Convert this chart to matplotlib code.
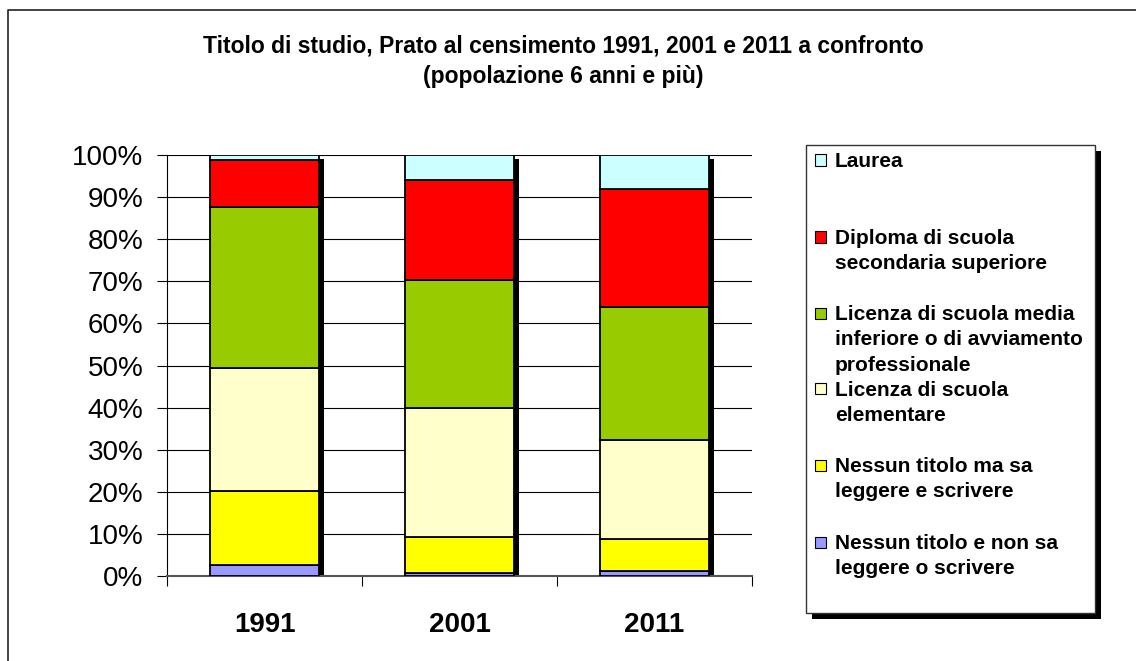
import numpy as np
import matplotlib.pyplot as plt
import matplotlib.patheffects as pe
from matplotlib.patches import Rectangle
from matplotlib.lines import Line2D
from matplotlib.ticker import FuncFormatter

plt.rcParams['font.family'] = ['Liberation Sans', 'DejaVu Sans']

# data (% of population aged 6+)
years = ['1991', '2001', '2011']
nessun_non_sa = [2.6, 0.7, 1.1]
nessun_ma_sa = [17.5, 8.5, 7.6]
elementare = [29.3, 30.6, 23.7]
media = [38.3, 30.4, 31.5]
diploma = [11.2, 23.9, 28.0]
laurea = [1.1, 5.9, 8.1]

labels = ['Nessun titolo e non sa\nleggere o scrivere',
          'Nessun titolo ma sa\nleggere e scrivere',
          'Licenza di scuola\nelementare',
          'Licenza di scuola media\ninferiore o di avviamento\nprofessionale',
          'Diploma di scuola\nsecondaria superiore',
          'Laurea']
colors = ['#9999FF', '#FFFF00', '#FFFFCC', '#99CC00', '#FF0000', '#CCFFFF']
series = [nessun_non_sa, nessun_ma_sa, elementare, media, diploma, laurea]

W, H = 1136, 661
fig = plt.figure(figsize=(W/100, H/100), dpi=100)

def fx(x):
    return x/W

def fy(y):
    return 1 - y/H

ax = fig.add_axes([fx(167), fy(576), (752-167)/W, (576-155)/H])

x = np.arange(len(years))
vals = np.array(series, dtype=float)
totals = vals.sum(axis=0)
pct = vals/totals*100
bw = 0.554

# shadow behind each stacked column
ax.bar(x, pct.sum(axis=0), bw, color='white', zorder=2,
       path_effects=[pe.SimplePatchShadow(offset=(3.8, -3), shadow_rgbFace='black', alpha=1.0), pe.Normal()])

bottom = np.zeros(len(years))
for s, c in zip(pct, colors):
    ax.bar(x, s, bw, bottom=bottom, color=c, edgecolor='black', linewidth=1.3, zorder=3)
    bottom += s

ax.set_xlim(-0.5, 2.5)
ax.set_ylim(0, 100)
ax.set_yticks(np.arange(0, 101, 10))
ax.yaxis.set_major_formatter(FuncFormatter(lambda v, p: '%d%%' % v))
ax.yaxis.grid(True, color='black', linewidth=0.8)
ax.set_axisbelow(True)
ax.tick_params(axis='y', direction='out', length=7, width=0.8, pad=10, labelsize=20)

ax.set_xticks(x)
ax.set_xticklabels(years, fontsize=20, fontweight='bold')
ax.tick_params(axis='x', length=0, pad=26)
ax.set_xticks(np.arange(-0.5, 3, 1), minor=True)
ax.tick_params(axis='x', which='minor', direction='out', length=7, width=0.8)

for sp in ['top', 'right']:
    ax.spines[sp].set_visible(False)
ax.spines['left'].set_color('black')
ax.spines['bottom'].set_color('#555555')
ax.spines['left'].set_linewidth(0.8)
ax.spines['bottom'].set_linewidth(1.5)

# title
fig.text(fx(563), fy(46), 'Titolo di studio, Prato al censimento 1991, 2001 e 2011 a confronto',
         ha='center', va='center', fontsize=16.5, fontweight='bold')
fig.text(fx(563), fy(77), '(popolazione 6 anni e più)',
         ha='center', va='center', fontsize=16.5, fontweight='bold')

# outer chart border
fig.add_artist(Line2D([fx(8), fx(8), fx(W + 5)], [fy(H + 5), fy(10), fy(10)],
                      color='#222222', linewidth=1.2))

# legend box
box = Rectangle((fx(806), fy(613)), (1095-806)/W, (613-145)/H, transform=fig.transFigure,
                facecolor='white', edgecolor='#333333', linewidth=1.0,
                path_effects=[pe.SimplePatchShadow(offset=(4, -4), shadow_rgbFace='black', alpha=1.0), pe.Normal()])
fig.add_artist(box)

ypos = [542, 465, 389, 313, 237, 160]
for lab, c, yy in zip(labels, colors, ypos):
    fig.add_artist(Rectangle((fx(815), fy(yy + 5.5)), 11/W, 11/H, transform=fig.transFigure,
                             facecolor=c, edgecolor='black', linewidth=0.8))
    fig.text(fx(835), fy(yy - 8), lab, ha='left', va='top', fontsize=15,
             fontweight='bold', linespacing=1.42)

fig.savefig('out.png', dpi=100)
